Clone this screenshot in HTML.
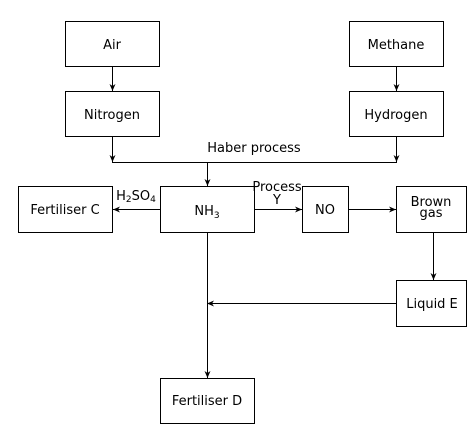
<!DOCTYPE html><html><head><style>body{margin:0;background:#fff}svg{display:block}text{font-family:"DejaVu Sans","Liberation Sans",sans-serif;font-size:13px;fill:#000}</style></head><body>
<svg width="473" height="433" viewBox="0 0 473 433">
<defs><marker id="a" markerWidth="8" markerHeight="6" refX="7" refY="3" orient="auto" markerUnits="userSpaceOnUse"><path d="M0,0 L7,3 L0,6 L2,3 Z" fill="#000"/></marker></defs>
<g fill="none" stroke="#000" stroke-width="1">
<rect x="65.5" y="21.5" width="94" height="45"/>
<rect x="349.5" y="21.5" width="94" height="45"/>
<rect x="65.5" y="91.5" width="94" height="45"/>
<rect x="349.5" y="91.5" width="94" height="45"/>
<rect x="18.5" y="186.5" width="94" height="46"/>
<rect x="160.5" y="186.5" width="94" height="46"/>
<rect x="302.5" y="186.5" width="46" height="46"/>
<rect x="396.5" y="186.5" width="70" height="46"/>
<rect x="396.5" y="280.5" width="70" height="46"/>
<rect x="160.5" y="378.5" width="94" height="45"/>
<path d="M112.5 67V91" marker-end="url(#a)"/>
<path d="M396.5 67V91" marker-end="url(#a)"/>
<path d="M112.5 137V162" marker-end="url(#a)"/>
<path d="M396.5 137V162" marker-end="url(#a)"/>
<path d="M112 162.5H397"/>
<path d="M207.5 162V186" marker-end="url(#a)"/>
<path d="M160 209.5H113" marker-end="url(#a)"/>
<path d="M255 209.5H302" marker-end="url(#a)"/>
<path d="M349 209.5H396" marker-end="url(#a)"/>
<path d="M433.5 233V280" marker-end="url(#a)"/>
<path d="M396 303.5H207" marker-end="url(#a)"/>
<path d="M207.5 233V378" marker-end="url(#a)"/>
</g>
<g text-anchor="middle">
<text x="112" y="49">Air</text>
<text x="396" y="49">Methane</text>
<text x="112" y="119">Nitrogen</text>
<text x="396" y="119">Hydrogen</text>
<text x="254" y="152">Haber process</text>
<text x="65" y="214">Fertiliser C</text>
<text x="207" y="215">NH<tspan font-size="9" dy="3">3</tspan></text>
<text x="325" y="214">NO</text>
<text x="431" y="206">Brown</text>
<text x="431" y="217">gas</text>
<text x="432" y="308">Liquid E</text>
<text x="207" y="405">Fertiliser D</text>
<text x="277" y="191">Process</text>
<text x="277" y="204">Y</text>
<text x="136" y="200">H<tspan font-size="9" dy="2">2</tspan><tspan dy="-2">SO</tspan><tspan font-size="9" dy="2">4</tspan></text>
</g>
</svg></body></html>
